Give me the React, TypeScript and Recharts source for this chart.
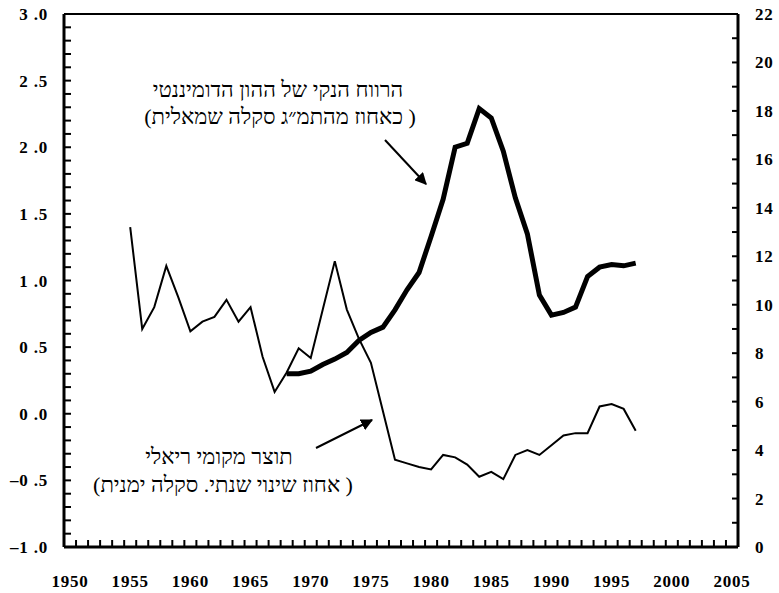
import React from 'react';
import { LineChart, Line, XAxis, YAxis, ReferenceLine } from 'recharts';

// Years covered by the real GDP series (right scale)
const years = [
  1955, 1956, 1957, 1958, 1959, 1960, 1961, 1962, 1963, 1964,
  1965, 1966, 1967, 1968, 1969, 1970, 1971, 1972, 1973, 1974,
  1975, 1976, 1977, 1978, 1979, 1980, 1981, 1982, 1983, 1984,
  1985, 1986, 1987, 1988, 1989, 1990, 1991, 1992, 1993, 1994,
  1995, 1996, 1997,
];

// Real GDP, annual % change (right scale)
const gdpGrowth = [
  13.2, 9.0, 9.9, 11.6, 10.3, 8.9, 9.3, 9.5, 10.2, 9.3,
  9.9, 7.85, 6.4, 7.2, 8.2, 7.8, 9.8, 11.8, 9.8, 8.6,
  7.6, 5.6, 3.6, 3.45, 3.3, 3.2, 3.8, 3.7, 3.4, 2.9,
  3.1, 2.8, 3.8, 4.0, 3.8, 4.2, 4.6, 4.7, 4.7, 5.8,
  5.9, 5.7, 4.8,
];

// Net profit of dominant capital, % of GDP (left scale), from 1968
const profitStart = 1968;
const profitShare = [
  0.30, 0.30, 0.32, 0.37, 0.41, 0.46, 0.55, 0.61, 0.65, 0.78,
  0.93, 1.06, 1.33, 1.61, 2.0, 2.03, 2.29, 2.22, 1.97, 1.62,
  1.35, 0.89, 0.74, 0.76, 0.80, 1.03, 1.10, 1.12, 1.11, 1.13,
];

const xLabels = [1950, 1955, 1960, 1965, 1970, 1975, 1980, 1985, 1990, 1995, 2000, 2005];
const leftLabels = [-1, -0.5, 0, 0.5, 1, 1.5, 2, 2.5, 3];
const rightLabels = [0, 2, 4, 6, 8, 10, 12, 14, 16, 18, 20, 22];

// tick marks: year boundaries on x, every 0.1 on the left, every 1 on the right
const xMarks = Array.from({ length: 55 }, (_, i) => 1950.5 + i);
const leftMarks = Array.from({ length: 41 }, (_, i) => Math.round((-1 + i * 0.1) * 10) / 10);
const rightMarks = Array.from({ length: 23 }, (_, i) => i);

const data = years.map((year, i) => ({
  year,
  gdp: gdpGrowth[i],
  profit: year >= profitStart ? profitShare[year - profitStart] : null,
}));

// chart box: plot area runs 64..738 across, 14..547 down
const W = 779;
const H = 593;
const MARGIN = { top: 14, right: 8, left: 8, bottom: 0 };
const LEFT_W = 56;
const RIGHT_W = 33;
const X_H = 46;
const PLOT = {
  left: MARGIN.left + LEFT_W,
  right: W - MARGIN.right - RIGHT_W,
  top: MARGIN.top,
  bottom: H - MARGIN.bottom - X_H,
};
const LEFT_DOMAIN = [-1, 3];
const RIGHT_DOMAIN = [0, 22];

const FONT = 'Liberation Serif, Times New Roman, DejaVu Serif, serif';
const labelProps = { fontFamily: FONT, fontWeight: 700, fontSize: 17, fill: '#000', letterSpacing: 0.8 };
const axisStroke = { stroke: '#000', strokeWidth: 3 };

const X_MARGIN = 28;

const formatLeft = (v: number) => {
  const [i, d] = v.toFixed(1).split('.');
  return `${i.replace('-', '–')} .${d}`;
};

const toY = (v: number, [lo, hi]: number[]) =>
  PLOT.bottom - ((v - lo) / (hi - lo)) * (PLOT.bottom - PLOT.top);

// x axis: inward marks at the year boundaries, labels on every fifth year
const XTick = ({ x, y, payload }: any) => {
  const v = Number(payload.value);
  const px = Number(x);
  const axisY = Number(y) - X_MARGIN;
  if (Number.isInteger(v)) {
    return (
      <text x={px} y={Number(y)} dy="0.71em" textAnchor="middle" {...labelProps}>
        {v}
      </text>
    );
  }
  return <path d={`M${px},${axisY} V${axisY - 7}`} stroke="#000" strokeWidth={2} fill="none" />;
};

export default function App() {
  return (
    <div style={{ position: 'absolute', left: 0, top: 0, width: W, height: H, background: '#fff', fontFamily: FONT }}>
      <LineChart width={W} height={H} data={data} margin={MARGIN}>
        <XAxis
          type="number"
          dataKey="year"
          domain={[1949.5, 2005.5]}
          allowDataOverflow
          ticks={[...xLabels, ...xMarks]}
          interval={0}
          tick={XTick}
          tickLine={false}
          tickSize={0}
          tickMargin={X_MARGIN}
          axisLine={axisStroke}
          height={X_H}
        />
        <YAxis
          yAxisId="left"
          type="number"
          domain={LEFT_DOMAIN}
          allowDataOverflow
          ticks={leftLabels}
          interval={0}
          tickFormatter={formatLeft}
          tick={labelProps}
          tickLine={false}
          tickSize={0}
          tickMargin={16}
          axisLine={axisStroke}
          width={LEFT_W}
        />
        <YAxis
          yAxisId="right"
          orientation="right"
          type="number"
          domain={RIGHT_DOMAIN}
          allowDataOverflow
          ticks={rightLabels}
          interval={0}
          tick={{ ...labelProps, textAnchor: 'start' }}
          tickLine={false}
          tickSize={0}
          tickMargin={17}
          axisLine={axisStroke}
          width={RIGHT_W}
        />
        <ReferenceLine yAxisId="left" y={3} stroke="#000" strokeWidth={2} />
        <Line
          yAxisId="right"
          dataKey="gdp"
          type="linear"
          stroke="#000"
          strokeWidth={2}
          dot={false}
          isAnimationActive={false}
        />
        <Line
          yAxisId="left"
          dataKey="profit"
          type="linear"
          stroke="#000"
          strokeWidth={5}
          dot={false}
          connectNulls={false}
          isAnimationActive={false}
        />
      </LineChart>

      <svg width={W} height={H} style={{ position: 'absolute', left: 0, top: 0, pointerEvents: 'none' }}>
        <defs>
          <marker id="head" viewBox="0 0 10 10" refX="9" refY="5" markerWidth="6" markerHeight="6" orient="auto">
            <path d="M0,0 L10,5 L0,10 Z" fill="#000" />
          </marker>
        </defs>
        {/* inward tick marks on both value axes */}
        {leftMarks.map((v) => {
          const y = toY(v, LEFT_DOMAIN);
          return <path key={`l${v}`} d={`M${PLOT.left},${y} H${PLOT.left + 7}`} stroke="#000" strokeWidth={2} />;
        })}
        {rightMarks.map((v) => {
          const y = toY(v, RIGHT_DOMAIN);
          return <path key={`r${v}`} d={`M${PLOT.right},${y} H${PLOT.right - 6}`} stroke="#000" strokeWidth={2} />;
        })}
        <g style={{ fontFamily: FONT }} fontSize={22} fill="#000" textAnchor="middle">
          <text x={278} y={97}>הרווח הנקי של ההון הדומיננטי</text>
          <text x={280} y={124}>(כאחוז מהתמ״ג סקלה שמאלית )</text>
          <text x={219} y={464}>תוצר מקומי ריאלי</text>
          <text x={223} y={492}>(אחוז שינוי שנתי. סקלה ימנית )</text>
        </g>
        <line x1={385} y1={140} x2={426} y2={184} stroke="#000" strokeWidth={2} markerEnd="url(#head)" />
        <line x1={316} y1={448} x2={372} y2={420} stroke="#000" strokeWidth={2} markerEnd="url(#head)" />
      </svg>
    </div>
  );
}
